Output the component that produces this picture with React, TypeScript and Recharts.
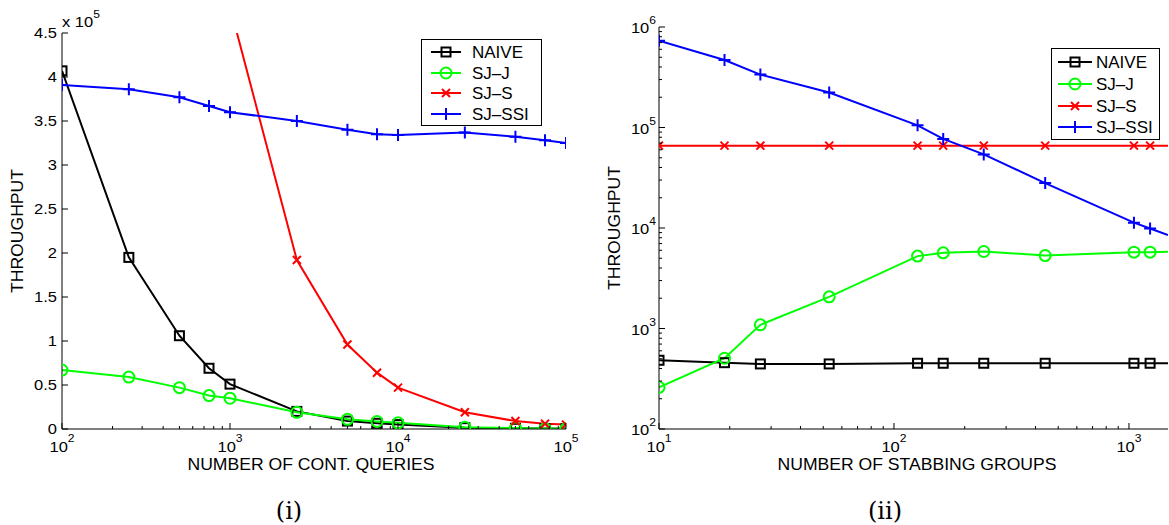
import React from 'react';
import { LineChart, Line, XAxis, YAxis, Legend } from 'recharts';

// ---- (i) throughput vs number of continuous queries ----
const queries = [100, 250, 500, 750, 1000, 2500, 5000, 7500, 10000, 25000, 50000, 75000, 100000];
const naiveQ = [407000, 195000, 106000, 69000, 51000, 20000, 9000, 6500, 5000, 1500, 800, 500, 400];
const sjjQ = [67000, 59000, 47000, 38000, 35000, 19000, 11000, 8500, 7000, 2000, 1000, 500, 500];
const sjsQ = [null, null, null, null, 480000, 192000, 96000, 64000, 47000, 19000, 9000, 6000, 5000];
const ssiQ = [391000, 386000, 377000, 367000, 360000, 350000, 340000, 335000, 334000, 337000, 332000, 328000, 325000];

// ---- (ii) throughput vs number of stabbing groups (last entry = where lines meet the frame) ----
const groups = [10, 19, 27, 53, 126, 162, 241, 440, 1050, 1230, 1466];
const naiveG = [483, 457, 444, 444, 451, 451, 451, 451, 451, 451, 451];
const sjjG = [260, 506, 1087, 2065, 5250, 5660, 5840, 5320, 5750, 5750, 5800];
const sjsG = [66000, 66000, 66000, 66000, 66000, 66000, 66000, 66000, 66000, 66000, 66000];
const ssiG = [730000, 470000, 336000, 223000, 105000, 77000, 54000, 28000, 11300, 9900, 8500];

const seriesNames = ['NAIVE', 'SJ\u2013J', 'SJ\u2013S', 'SJ\u2013SSI'];
const seriesColors = ['#000000', '#00ff00', '#ff0000', '#0000ff'];
const seriesKeys = ['naive', 'sjj', 'sjs', 'ssi'];

// tick values
const yTicksLin = [0, 50000, 100000, 150000, 200000, 250000, 300000, 350000, 400000, 450000];
const decades = (lo: number, hi: number, max: number) => {
  const out: number[] = [];
  for (let e = lo; e <= hi; e++) {
    for (let m = 1; m <= 9; m++) {
      const v = m * Math.pow(10, e);
      if (v <= max) out.push(v);
    }
  }
  return out;
};
const xTicksQ = decades(2, 5, 100000);
const xTicksG = decades(1, 3, 1466);
const yTicksG = decades(2, 6, 1000000);

const dataQ = queries.map((x, i) => ({ x, naive: naiveQ[i], sjj: sjjQ[i], sjs: sjsQ[i], ssi: ssiQ[i] }));
const dataG = groups.map((x, i) => ({
  x, naive: naiveG[i], sjj: sjjG[i], sjs: sjsG[i], ssi: ssiG[i], edge: i === groups.length - 1,
}));

const SANS = '"Liberation Sans", Arial, Helvetica, sans-serif';
const SX = 1.1;

const isPow10 = (v: number) => {
  const l = Math.log10(v);
  return Math.abs(l - Math.round(l)) < 1e-9;
};

// markers
function Marker({ kind, cx, cy, color }: { kind: number; cx: number; cy: number; color: string }) {
  const sw = 2;
  if (kind === 0) return <rect x={cx - 4.5} y={cy - 4.5} width={9} height={9} fill="none" stroke={color} strokeWidth={sw} />;
  if (kind === 1) return <circle cx={cx} cy={cy} r={5.5} fill="none" stroke={color} strokeWidth={sw} />;
  if (kind === 2)
    return (
      <path d={`M${cx - 4},${cy - 4}L${cx + 4},${cy + 4}M${cx - 4},${cy + 4}L${cx + 4},${cy - 4}`} stroke={color} strokeWidth={sw} />
    );
  return <path d={`M${cx - 6},${cy}L${cx + 6},${cy}M${cx},${cy - 6}L${cx},${cy + 6}`} stroke={color} strokeWidth={sw} />;
}

const makeDot = (kind: number, yMax: number) => (props: any) => {
  const { cx, cy, payload, value, index } = props;
  if (cx == null || cy == null || value == null || value > yMax || payload.edge) return <g key={index} />;
  return (
    <g key={index}>
      <Marker kind={kind} cx={cx} cy={cy} color={seriesColors[kind]} />
    </g>
  );
};

function Pow({ x, y, exp, anchor, supDy }: { x: number; y: number; exp: number; anchor: 'middle' | 'end' | 'start'; supDy: number }) {
  return (
    <text transform={`translate(${x},${y}) scale(${SX},1)`} textAnchor={anchor} fontFamily={SANS} fontSize={15} fill="#000">
      <tspan>10</tspan>
      <tspan dy={supDy} fontSize={11}>{exp}</tspan>
    </text>
  );
}

// ticks (inward, matlab style)
const BottomLogTick = (props: any) => {
  const { x, y, payload } = props;
  const major = isPow10(payload.value);
  return (
    <g>
      <line x1={x} x2={x} y1={y} y2={y - (major ? 6 : 3)} stroke="#000" />
      {major && <Pow x={x} y={y + 23} exp={Math.round(Math.log10(payload.value))} anchor="middle" supDy={-10} />}
    </g>
  );
};
const TopLogTick = (props: any) => {
  const { x, y, payload } = props;
  const major = isPow10(payload.value);
  return <line x1={x} x2={x} y1={y} y2={y + (major ? 6 : 3)} stroke="#000" />;
};
const LeftLinTick = (props: any) => {
  const { x, y, payload } = props;
  return (
    <g>
      <line x1={x} x2={x + 6} y1={y} y2={y} stroke="#000" />
      <text transform={`translate(${x - 5},${y + 5}) scale(${SX},1)`} textAnchor="end" fontFamily={SANS} fontSize={15} fill="#000">
        {String(payload.value / 100000)}
      </text>
    </g>
  );
};
const RightLinTick = (props: any) => {
  const { x, y } = props;
  return <line x1={x} x2={x - 6} y1={y} y2={y} stroke="#000" />;
};
const LeftLogTick = (props: any) => {
  const { x, y, payload } = props;
  const major = isPow10(payload.value);
  return (
    <g>
      <line x1={x} x2={x + (major ? 6 : 3)} y1={y} y2={y} stroke="#000" />
      {major && <Pow x={x - 3} y={y + 6} exp={Math.round(Math.log10(payload.value))} anchor="end" supDy={-9} />}
    </g>
  );
};
const RightLogTick = (props: any) => {
  const { x, y, payload } = props;
  const major = isPow10(payload.value);
  return <line x1={x} x2={x - (major ? 6 : 3)} y1={y} y2={y} stroke="#000" />;
};

// legend box
const LegendBox = ({ w, h, rows, sample, textX }: { w: number; h: number; rows: number[]; sample: [number, number]; textX: number }) => (
  <svg width={w} height={h} style={{ display: 'block' }}>
    <rect x={0.5} y={0.5} width={w - 1} height={h - 1} fill="#fff" stroke="#000" />
    {seriesNames.map((name, k) => (
      <g key={name}>
        <line x1={sample[0]} x2={sample[1]} y1={rows[k]} y2={rows[k]} stroke={seriesColors[k]} strokeWidth={2} />
        <Marker kind={k} cx={(sample[0] + sample[1]) / 2} cy={rows[k]} color={seriesColors[k]} />
        <text x={textX} y={rows[k] + 6} fontFamily={SANS} fontSize={17} fill="#000">
          {name}
        </text>
      </g>
    ))}
  </svg>
);

const axisLine = { stroke: '#000', strokeWidth: 1 };

function QueriesChart() {
  return (
    <LineChart width={600} height={525} data={dataQ} margin={{ top: 33, right: 34, bottom: 0, left: 0 }}>
      <XAxis xAxisId="b" dataKey="x" type="number" scale="log" domain={[100, 100000]} allowDataOverflow ticks={xTicksQ}
        interval={0} height={96} tickSize={0} tickMargin={0} tickLine={false} axisLine={axisLine} tick={BottomLogTick} />
      <XAxis xAxisId="t" orientation="top" dataKey="x" type="number" scale="log" domain={[100, 100000]} allowDataOverflow
        ticks={xTicksQ} interval={0} height={0} tickSize={0} tickMargin={0} tickLine={false} axisLine={axisLine} tick={TopLogTick} />
      <YAxis yAxisId="l" type="number" domain={[0, 450000]} allowDataOverflow ticks={yTicksLin} interval={0} width={62}
        tickSize={0} tickMargin={0} tickLine={false} axisLine={axisLine} tick={LeftLinTick} />
      <YAxis yAxisId="r" orientation="right" type="number" domain={[0, 450000]} allowDataOverflow ticks={yTicksLin} interval={0}
        width={0} tickSize={0} tickMargin={0} tickLine={false} axisLine={axisLine} tick={RightLinTick} />
      {seriesKeys.map((k, i) => (
        <Line key={k} xAxisId="b" yAxisId="l" type="linear" dataKey={k} name={seriesNames[i]} stroke={seriesColors[i]}
          strokeWidth={2} dot={makeDot(i, 450000)} activeDot={false} isAnimationActive={false} />
      ))}
      <Legend layout="horizontal" verticalAlign="middle" align="center"
        wrapperStyle={{ left: 421, top: 39, width: 121, height: 87 }}
        content={() => <LegendBox w={121} h={87} rows={[13, 34, 54, 75]} sample={[10, 40]} textX={51} />} />
    </LineChart>
  );
}

function GroupsChart() {
  return (
    <LineChart width={579} height={525} data={dataG} margin={{ top: 27, right: 1, bottom: 0, left: 0 }}>
      <XAxis xAxisId="b" dataKey="x" type="number" scale="log" domain={[10, 1466]} allowDataOverflow ticks={xTicksG}
        interval={0} height={96} tickSize={0} tickMargin={0} tickLine={false} axisLine={axisLine} tick={BottomLogTick} />
      <XAxis xAxisId="t" orientation="top" dataKey="x" type="number" scale="log" domain={[10, 1466]} allowDataOverflow
        ticks={xTicksG} interval={0} height={0} tickSize={0} tickMargin={0} tickLine={false} axisLine={axisLine} tick={TopLogTick} />
      <YAxis yAxisId="l" type="number" scale="log" domain={[100, 1000000]} allowDataOverflow ticks={yTicksG} interval={0}
        width={69} tickSize={0} tickMargin={0} tickLine={false} axisLine={axisLine} tick={LeftLogTick} />
      <YAxis yAxisId="r" orientation="right" type="number" scale="log" domain={[100, 1000000]} allowDataOverflow ticks={yTicksG}
        interval={0} width={0} tickSize={0} tickMargin={0} tickLine={false} axisLine={axisLine} tick={RightLogTick} />
      {seriesKeys.map((k, i) => (
        <Line key={k} xAxisId="b" yAxisId="l" type="linear" dataKey={k} name={seriesNames[i]} stroke={seriesColors[i]}
          strokeWidth={2} dot={makeDot(i, 1000000)} activeDot={false} isAnimationActive={false} />
      ))}
      <Legend layout="horizontal" verticalAlign="middle" align="center"
        wrapperStyle={{ left: 461, top: 48, width: 109, height: 92 }}
        content={() => <LegendBox w={109} h={92} rows={[14, 36, 58, 79]} sample={[7, 41]} textX={45} />} />
    </LineChart>
  );
}

export default function App() {
  return (
    <div style={{ position: 'absolute', left: 0, top: 0, width: 1169, height: 525, background: '#fff', overflow: 'hidden' }}>
      <div style={{ position: 'absolute', left: 0, top: 0 }}>
        <QueriesChart />
      </div>
      <div style={{ position: 'absolute', left: 590, top: 0 }}>
        <GroupsChart />
      </div>
      <svg width={1169} height={525} style={{ position: 'absolute', left: 0, top: 0, pointerEvents: 'none' }}>
        <text transform={`translate(62,27) scale(${SX},1)`} fontFamily={SANS} fontSize={15} fill="#000">
          <tspan>x 10</tspan>
          <tspan dy={-9} fontSize={11}>5</tspan>
        </text>
        <text transform={`translate(23,231) rotate(-90) scale(${SX},1)`} textAnchor="middle" fontFamily={SANS} fontSize={16} fill="#000">
          THROUGHPUT
        </text>
        <text transform={`translate(620,228) rotate(-90) scale(${SX},1)`} textAnchor="middle" fontFamily={SANS} fontSize={16} fill="#000">
          THROUGHPUT
        </text>
        <text transform={`translate(311,470) scale(${SX},1)`} textAnchor="middle" fontFamily={SANS} fontSize={16} fill="#000">
          NUMBER OF CONT. QUERIES
        </text>
        <text transform={`translate(917,470) scale(${SX},1)`} textAnchor="middle" fontFamily={SANS} fontSize={16} fill="#000">
          NUMBER OF STABBING GROUPS
        </text>
        <text x={289} y={519} textAnchor="middle" fontFamily='"DejaVu Serif", serif' fontSize={24} fill="#000">
          (i)
        </text>
        <text x={885} y={519} textAnchor="middle" fontFamily='"DejaVu Serif", serif' fontSize={24} fill="#000">
          (ii)
        </text>
      </svg>
    </div>
  );
}
